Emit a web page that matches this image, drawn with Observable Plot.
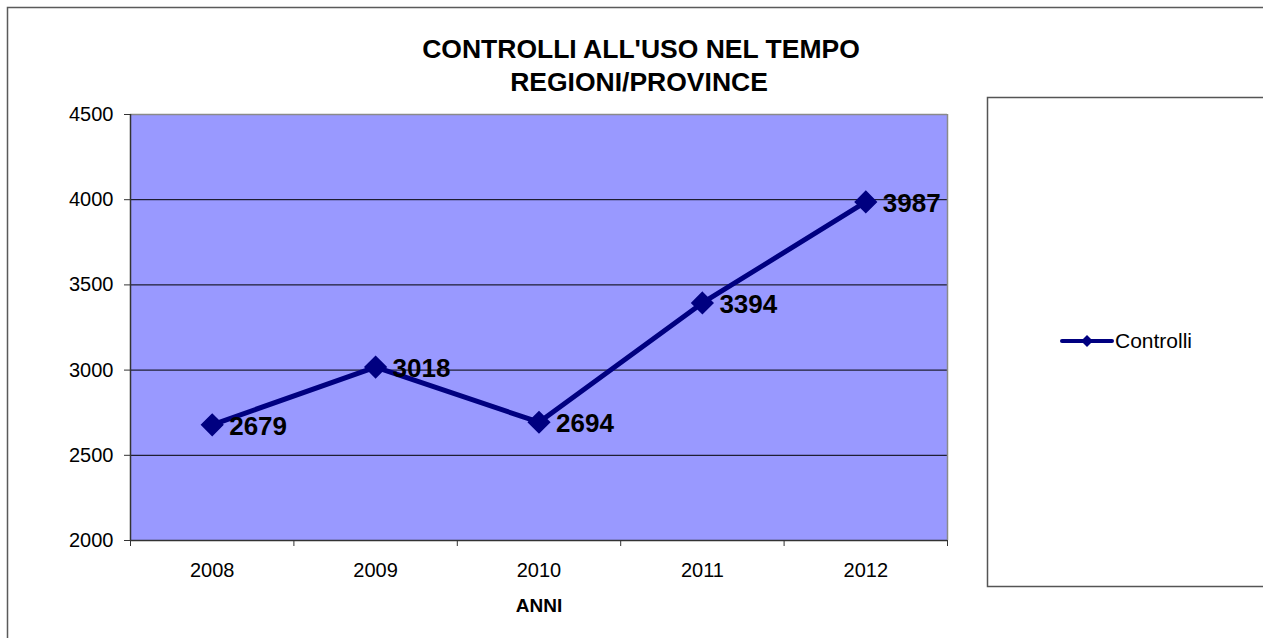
<!DOCTYPE html>
<html>
<head>
<meta charset="utf-8">
<script src="https://cdn.jsdelivr.net/npm/d3@7"></script>
<script src="https://cdn.jsdelivr.net/npm/@observablehq/plot@0.6"></script>
<style>
  html, body { margin: 0; padding: 0; background: #fff; }
  #chart { width: 1263px; height: 638px; overflow: hidden; }
</style>
</head>
<body>
<div id="chart"></div>
<script>
const years = [2008, 2009, 2010, 2011, 2012];
const controlli = [2679, 3018, 2694, 3394, 3987];
const yTicks = [2000, 2500, 3000, 3500, 4000, 4500];
const gridValues = [2500, 3000, 3500, 4000];
const titleLines = ["CONTROLLI ALL'USO NEL TEMPO", "REGIONI/PROVINCE"];
const xTitle = "ANNI";
const seriesName = "Controlli";

const data = years.map((year, i) => ({year, value: controlli[i]}));
const boundaries = [years[0] - 0.5, ...years.map(y => y + 0.5)];

const FONT = "'Liberation Sans', Arial, sans-serif";
const NAVY = "#000080";

const plot = Plot.plot({
  width: 1263,
  height: 638,
  marginLeft: 130,
  marginRight: 316,
  marginTop: 114,
  marginBottom: 98,
  style: {fontFamily: FONT, background: "transparent", color: "#000", overflow: "visible"},
  x: {type: "linear", domain: [years[0] - 0.5, years[years.length - 1] + 0.5]},
  y: {domain: [2000, 4500]},
  marks: [
    Plot.frame({fill: "#9999ff", stroke: "none"}),
    Plot.ruleY(gridValues, {stroke: "#000", strokeWidth: 1}),
    Plot.ruleY([4500], {stroke: "#8a8a8a", strokeWidth: 1.5}),
    Plot.ruleX([boundaries[boundaries.length - 1]], {stroke: "#8a8a8a", strokeWidth: 1.5}),
    Plot.ruleX([boundaries[0]], {stroke: "#333", strokeWidth: 1.5}),
    Plot.ruleY([2000], {stroke: "#333", strokeWidth: 1.5}),
    Plot.axisY({ticks: yTicks, tickSize: 6, tickPadding: 11, fontSize: 20, tickFormat: d3.format("d"), label: null, stroke: "#333"}),
    Plot.axisX({ticks: boundaries, tickSize: 6, tickFormat: () => "", label: null, stroke: "#333"}),
    Plot.axisX({ticks: years, tickSize: 0, tickPadding: 22, fontSize: 20, tickFormat: d3.format("d"), label: null}),
    Plot.line(data, {x: "year", y: "value", stroke: NAVY, strokeWidth: 5, strokeLinejoin: "round"}),
    Plot.dot(data, {x: "year", y: "value", symbol: "diamond2", r: 9.5, fill: NAVY, stroke: NAVY}),
    Plot.text(data, {x: "year", y: "value", text: d => String(d.value), textAnchor: "start", dx: 17, dy: 1.5, fontSize: 26, fontWeight: "bold", fill: "#000"})
  ]
});

document.getElementById("chart").appendChild(plot);

const svg = d3.select(plot);
// Outer chart border and legend box (behind everything)
const bg = svg.insert("g", ":first-child");
bg.append("rect").attr("x", 7.5).attr("y", 7.5).attr("width", 1300).attr("height", 700)
  .attr("fill", "none").attr("stroke", "#5a5a5a").attr("stroke-width", 1.5);
bg.append("rect").attr("x", 987.5).attr("y", 97.5).attr("width", 320).attr("height", 489)
  .attr("fill", "#fff").attr("stroke", "#555").attr("stroke-width", 1.5);

// Title
const tg = svg.append("g").attr("font-family", FONT).attr("font-weight", "bold")
  .attr("font-size", 26.5).attr("text-anchor", "middle").attr("fill", "#000");
tg.append("text").attr("x", 641).attr("y", 58).text(titleLines[0]);
tg.append("text").attr("x", 639).attr("y", 91).text(titleLines[1]);

// X axis title
svg.append("text").attr("x", 539).attr("y", 612).attr("text-anchor", "middle")
  .attr("font-family", FONT).attr("font-weight", "bold").attr("font-size", 19).text(xTitle);

// Legend
const lg = svg.append("g").attr("text-anchor", "start");
lg.append("line").attr("x1", 1062).attr("x2", 1112).attr("y1", 341).attr("y2", 341)
  .attr("stroke", NAVY).attr("stroke-width", 4).attr("stroke-linecap", "round");
lg.append("path").attr("d", "M1087,335L1093,341L1087,347L1081,341Z").attr("fill", NAVY);
lg.append("text").attr("x", 1115).attr("y", 347.5).attr("text-anchor", "start").attr("font-family", FONT)
  .attr("font-size", 21).attr("fill", "#000").text(seriesName);
</script>
</body>
</html>
